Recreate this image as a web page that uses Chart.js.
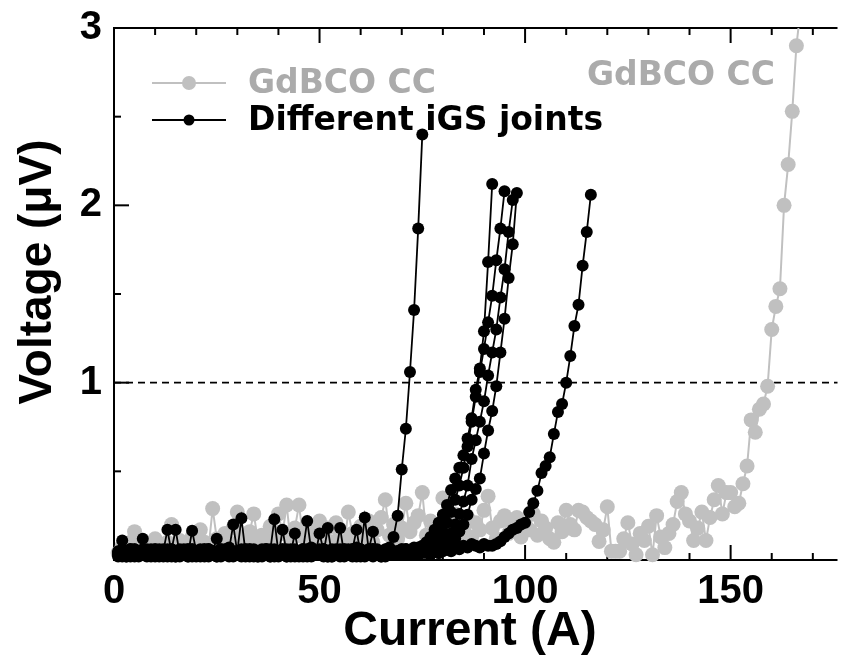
<!DOCTYPE html>
<html><head><meta charset="utf-8">
<style>html,body{margin:0;padding:0;background:#fff;}#wrap{width:845px;height:663px;}</style>
<script src="https://cdn.jsdelivr.net/npm/chart.js@4/dist/chart.umd.min.js"></script>
</head><body><div id="wrap"><canvas id="c" width="845" height="663"></canvas></div>
<script>
// Current (A) grid shared by all series
const current = [1,2,3,4,5,6,7,8,9,10,11,12,13,14,15,16,17,18,19,20,21,22,23,24,25,26,27,28,29,30,31,32,33,34,35,36,37,38,39,40,41,42,43,44,45,46,47,48,49,50,51,52,53,54,55,56,57,58,59,60,61,62,63,64,65,66,67,68,69,70,71,72,73,74,75,76,77,78,79,80,81,82,83,84,85,86,87,88,89,90,91,92,93,94,95,96,97,98,99,100,101,102,103,104,105,106,107,108,109,110,111,112,113,114,115,116,117,118,119,120,121,122,123,124,125,126,127,128,129,130,131,132,133,134,135,136,137,138,139,140,141,142,143,144,145,146,147,148,149,150,151,152,153,154,155,156,157,158,159,160,161,162,163,164,165,166,167];

// GdBCO coated conductor (gray), voltage in µV
const gdbcoCC = [0.04,0.08,0.06,0.10,0.16,0.07,0.05,0.09,0.06,0.12,
0.08,0.05,0.10,0.20,0.07,0.11,0.06,0.09,0.13,0.08,
0.17,0.10,0.07,0.29,0.12,0.08,0.15,0.10,0.18,0.27,
0.13,0.09,0.16,0.26,0.11,0.14,0.08,0.19,0.12,0.26,
0.15,0.31,0.10,0.18,0.31,0.13,0.20,0.09,0.16,0.22,
0.12,0.18,0.10,0.21,0.14,0.09,0.27,0.15,0.11,0.19,
0.13,0.22,0.10,0.17,0.24,0.34,0.14,0.20,0.12,0.18,
0.32,0.16,0.21,0.25,0.38,0.14,0.22,0.18,0.12,0.35,
0.20,0.15,0.26,0.11,0.19,0.24,0.13,0.21,0.17,0.28,
0.36,0.18,0.12,0.22,0.25,0.15,0.19,0.24,0.13,0.20,
0.17,0.26,0.14,0.22,0.18,0.12,0.10,0.21,0.16,0.28,
0.20,0.17,0.28,0.27,0.24,0.22,0.20,0.105,0.17,0.30,
0.05,0.05,0.05,0.12,0.21,0.09,0.03,0.15,0.11,0.19,
0.03,0.25,0.13,0.07,0.15,0.20,0.33,0.38,0.26,0.22,
0.11,0.18,0.27,0.11,0.24,0.34,0.42,0.26,0.38,0.38,
0.30,0.32,0.43,0.53,0.79,0.72,0.85,0.88,0.98,1.30,
1.43,1.53,2.00,2.23,2.53,2.90,3.10];

// Different iGS joints (black), voltage in µV
const joint1 = [0.03,0.05,0.02,0.06,0.04,0.03,0.05,0.02,0.04,0.06,
0.03,0.05,0.17,0.04,0.02,0.05,0.03,0.06,0.04,0.02,
0.05,0.03,0.06,0.04,0.02,0.05,0.03,0.07,0.04,0.05,
0.235,0.04,0.02,0.06,0.03,0.05,0.04,0.02,0.06,0.04,
0.03,0.05,0.02,0.06,0.04,0.03,0.05,0.07,0.03,0.04,
0.06,0.02,0.05,0.03,0.06,0.04,0.05,0.03,0.07,0.04,
0.24,0.05,0.04,0.06,0.05,0.04,0.07,
0.13,0.25,0.51,0.74,1.06,1.41,1.87,2.40];
const joint2 = [0.02,0.11,0.04,0.03,0.06,0.02,0.05,0.04,0.03,0.06,
0.04,0.02,0.05,0.06,0.17,0.03,0.05,0.02,0.06,0.04,
0.03,0.06,0.02,0.05,0.04,0.06,0.03,0.05,0.02,0.04,
0.06,0.03,0.05,0.04,0.02,0.06,0.03,0.05,0.23,0.04,
0.06,0.02,0.05,0.03,0.04,0.06,0.02,0.05,0.03,0.06,
0.04,0.18,0.03,0.05,0.02,0.06,0.04,0.03,0.05,0.06,
0.02,0.04,0.06,0.03,0.05,0.04,0.06,0.03,0.05,0.04,
0.06,0.05,0.07,0.06,0.08,
0.10,0.13,0.17,0.21,0.255,0.31,0.395,0.46,0.52,0.59,0.685,0.80,0.96,1.08,1.29,1.68,2.12];
const joint3 = [0.04,0.02,0.05,0.03,0.06,0.04,0.12,0.03,0.05,0.02,
0.06,0.04,0.03,0.05,0.02,0.06,0.04,0.03,0.165,0.05,
0.02,0.04,0.06,0.03,0.05,0.02,0.06,0.04,0.03,0.05,
0.02,0.06,0.04,0.05,0.03,0.02,0.06,0.04,0.05,0.03,
0.05,0.02,0.04,0.15,0.03,0.06,0.04,0.02,0.05,0.03,
0.06,0.04,0.02,0.05,0.18,0.03,0.06,0.04,0.05,0.02,
0.05,0.03,0.06,0.04,0.02,0.05,0.06,0.04,0.03,0.06,
0.04,0.05,0.03,0.06,0.05,0.07,0.06,
0.09,0.12,0.16,0.21,0.27,0.34,0.42,0.52,0.64,0.78,0.92,1.06,1.19,1.34,1.49,1.69,1.87,2.08];
const joint4 = [0.05,0.03,0.02,0.06,0.04,0.05,0.03,0.06,0.02,0.04,
0.05,0.03,0.06,0.02,0.04,0.05,0.03,0.06,0.02,0.05,
0.04,0.06,0.03,0.05,0.12,0.03,0.04,0.06,0.20,0.04,
0.03,0.05,0.06,0.02,0.04,0.05,0.03,0.06,0.02,0.04,
0.06,0.03,0.05,0.04,0.02,0.06,0.22,0.05,0.03,0.04,
0.02,0.05,0.06,0.03,0.04,0.02,0.05,0.06,0.17,0.03,
0.04,0.06,0.02,0.05,0.03,0.06,0.04,0.05,0.03,0.06,
0.04,0.05,0.06,0.03,0.05,0.04,0.06,0.05,0.04,0.06,
0.07,0.09,0.12,0.16,0.20,0.255,0.34,0.40,0.46,0.60,0.73,0.84,0.98,1.17,1.36,1.59,1.78,2.07];
const joint5 = [0.03,0.06,0.04,0.02,0.05,0.03,0.06,0.04,0.05,0.03,
0.02,0.06,0.04,0.05,0.03,0.02,0.06,0.04,0.05,0.03,
0.06,0.02,0.04,0.05,0.03,0.06,0.04,0.02,0.05,0.03,
0.04,0.06,0.03,0.05,0.02,0.04,0.06,0.03,0.05,0.02,
0.17,0.04,0.06,0.03,0.05,0.02,0.04,0.06,0.03,0.15,
0.05,0.04,0.02,0.06,0.03,0.05,0.04,0.06,0.02,0.05,
0.03,0.06,0.16,0.04,0.05,0.02,0.06,0.04,0.05,0.03,
0.06,0.04,0.05,0.07,0.04,0.06,0.05,0.07,0.06,
0.08,0.11,0.15,0.20,0.26,0.33,0.42,0.57,0.675,0.78,0.895,1.04,1.17,1.30,1.48,1.64,1.85,2.03];
const joint6 = [0.04,0.05,0.03,0.06,0.02,0.04,0.05,0.03,0.06,0.04,
0.03,0.05,0.02,0.06,0.04,0.05,0.03,0.02,0.06,0.04,
0.05,0.03,0.06,0.04,0.02,0.05,0.03,0.06,0.04,0.05,
0.03,0.02,0.06,0.04,0.05,0.03,0.06,0.02,0.04,0.05,
0.03,0.06,0.04,0.02,0.05,0.03,0.06,0.04,0.05,0.03,
0.06,0.02,0.04,0.05,0.03,0.06,0.04,0.02,0.05,0.06,
0.03,0.04,0.06,0.05,0.02,0.04,0.06,0.03,0.05,0.04,
0.06,0.03,0.05,0.04,0.06,0.05,0.03,0.06,0.04,0.05,
0.06,0.05,0.07,0.06,0.08,0.07,0.09,0.08,0.07,0.09,0.08,
0.08,0.09,0.105,0.13,0.15,0.17,0.18,0.20,0.21,0.27,0.32,0.39,0.49,0.53,0.58,0.71,0.835,0.88,1.00,1.15,1.32,1.44,1.66,1.85,2.06];
const joints = [joint1, joint2, joint3, joint4, joint5, joint6];

// Labels / reference values
const xTitle = 'Current (A)';
const yTitle = 'Voltage (\u03BCV)';
const legendGray = 'GdBCO CC';
const legendBlack = 'Different iGS joints';
const annotationText = 'GdBCO CC';
const criterionV = 1;          // 1 µV criterion line
const xMajorLabels = [0, 50, 100, 150];
const yMajorLabels = [1, 2, 3];

const GRAY = '#c0c0c0', GRAY_TEXT = '#ababab';
const toXY = arr => arr.map((v, i) => ({ x: current[i], y: v }));

const datasets = joints.map((arr, k) => ({
  label: legendBlack + ' ' + (k + 1),
  data: toXY(arr),
  showLine: true,
  borderColor: '#000', backgroundColor: '#000',
  borderWidth: 1.8, pointRadius: 6, pointBorderWidth: 0, pointHoverRadius: 6,
  order: 1,
  clip: { left: 10, top: 10, right: 0, bottom: 10 }
}));
datasets.push({
  label: legendGray,
  data: toXY(gdbcoCC),
  showLine: true,
  borderColor: GRAY, backgroundColor: GRAY,
  borderWidth: 2, pointRadius: 7.5, pointBorderWidth: 0, pointHoverRadius: 7.5,
  order: 2,
  clip: { left: 10, top: 0, right: 0, bottom: 10 }
});

function seg(ctx, x1, y1, x2, y2) { ctx.beginPath(); ctx.moveTo(x1, y1); ctx.lineTo(x2, y2); ctx.stroke(); }

const framePlugin = {
  id: 'framePlugin',
  beforeDatasetsDraw(chart) {
    const { ctx, chartArea: a, scales: { x, y } } = chart;
    ctx.save();
    ctx.strokeStyle = '#000'; ctx.lineWidth = 2; ctx.lineCap = 'butt';
    seg(ctx, a.left, a.top - 1, a.left, a.bottom + 1);
    seg(ctx, a.left - 1, a.bottom, a.right, a.bottom);
    seg(ctx, a.left - 1, a.top, a.right, a.top);
    x.ticks.forEach(t => {
      const px = x.getPixelForValue(t.value);
      const len = xMajorLabels.includes(t.value) ? 15 : 7;
      seg(ctx, px, a.bottom, px, a.bottom - len);
      seg(ctx, px, a.top, px, a.top + len);
    });
    y.ticks.forEach(t => {
      const py = y.getPixelForValue(t.value);
      const len = Number.isInteger(t.value) ? 15 : 7;
      seg(ctx, a.left, py, a.left + len, py);
    });
    const yc = y.getPixelForValue(criterionV);
    ctx.lineWidth = 1.6; ctx.setLineDash([7, 5]);
    seg(ctx, a.left, yc, a.right, yc);
    ctx.restore();
  },
  afterDatasetsDraw(chart) {
    const { ctx } = chart;
    ctx.save();
    // legend
    ctx.lineWidth = 2; ctx.strokeStyle = GRAY; ctx.fillStyle = GRAY;
    seg(ctx, 152, 83, 226, 83);
    ctx.beginPath(); ctx.arc(189, 83, 7, 0, Math.PI * 2); ctx.fill();
    ctx.lineWidth = 1.8; ctx.strokeStyle = '#000'; ctx.fillStyle = '#000';
    seg(ctx, 152, 120, 226, 120);
    ctx.beginPath(); ctx.arc(189, 120, 5.5, 0, Math.PI * 2); ctx.fill();
    ctx.font = 'bold 33px "DejaVu Sans"';
    ctx.textBaseline = 'middle'; ctx.textAlign = 'left';
    ctx.fillStyle = GRAY_TEXT; ctx.fillText(legendGray, 248, 84);
    ctx.fillStyle = '#000'; ctx.fillText(legendBlack, 248, 121);
    ctx.fillStyle = GRAY_TEXT; ctx.fillText(annotationText, 587, 76);
    // axis titles
    ctx.fillStyle = '#000';
    ctx.textAlign = 'center';
    ctx.font = 'bold 48px "Liberation Sans", Arial, sans-serif';
    ctx.fillText(xTitle, 470, 632);
    ctx.font = 'bold 46px "Liberation Sans", Arial, sans-serif';
    ctx.translate(38, 272); ctx.rotate(-Math.PI / 2);
    ctx.fillText(yTitle, 0, 0);
    ctx.restore();
  }
};

const tickFont = { family: '"Liberation Sans", Arial, sans-serif', weight: 'bold', size: 40 };

new Chart(document.getElementById('c'), {
  type: 'scatter',
  data: { datasets },
  options: {
    responsive: false, animation: false, devicePixelRatio: 1,
    layout: { padding: { top: 28, right: 0, left: 0, bottom: 0 } },
    plugins: { legend: { display: false }, tooltip: { enabled: false } },
    scales: {
      x: {
        type: 'linear', min: 0, max: 176,
        afterFit(s) { s.height = 103; s.paddingLeft = 0; s.paddingRight = 0; },
        grid: { display: false, drawTicks: false },
        border: { display: false },
        ticks: {
          stepSize: 10, includeBounds: false, autoSkip: false, maxRotation: 0,
          padding: 8, color: '#000', font: tickFont,
          callback: v => xMajorLabels.includes(v) ? String(v) : ''
        }
      },
      y: {
        type: 'linear', min: 0, max: 3,
        afterFit(s) { s.width = 114; s.paddingTop = 0; s.paddingBottom = 0; },
        grid: { display: false, drawTicks: false },
        border: { display: false },
        ticks: {
          stepSize: 0.5, includeBounds: false, autoSkip: false,
          padding: 12, color: '#000', font: tickFont,
          callback: v => yMajorLabels.includes(v) ? String(v) : ''
        }
      }
    }
  },
  plugins: [framePlugin]
});
</script></body></html>
